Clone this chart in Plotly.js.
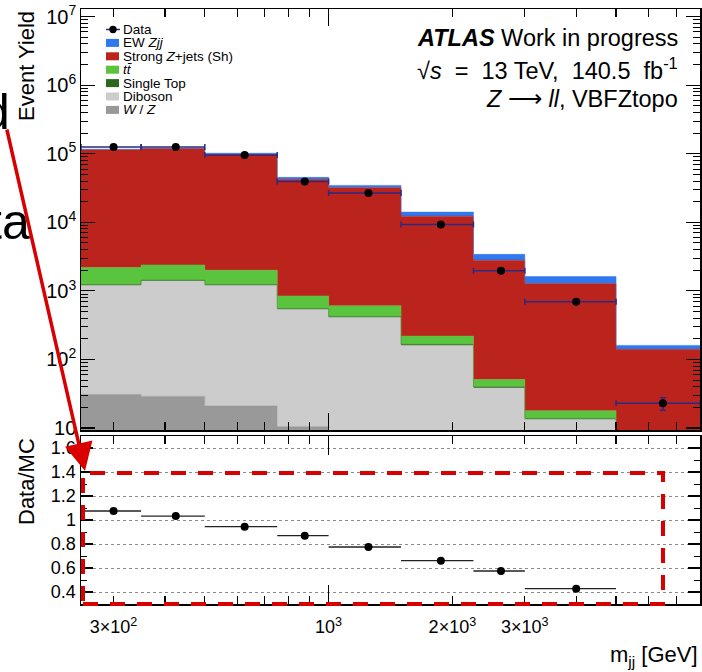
<!DOCTYPE html>
<html><head><meta charset="utf-8">
<script src="https://cdn.plot.ly/plotly-3.0.1.min.js"></script>
<style>html,body{margin:0;padding:0;background:#fff;}#chart{width:702px;height:672px;}</style>
</head><body><div id="chart"></div>
<script>
// ---- data ----
const binEdges   = [250, 350, 500, 750, 1000, 1500, 2250, 3000, 5000, 8000];
const dataYield  = [125600, 125600, 96200, 39400, 26800, 9290, 1960, 692, 22.9];
const dataErr    = [354, 354, 310, 198, 164, 96, 44, 26, 4.8];
const wzYield       = [31, 29, 21, 10.5, 7, 4, 1.5, 0.8, 0.2];
const dibosonYield  = [1169, 1361, 1179, 525, 403, 156, 37, 12.5, 4];
const singleTopYield= [40, 42, 40, 18, 14, 6, 1.5, 0.5, 0.2];
const ttbarYield    = [950, 960, 765, 292, 182, 53, 11, 4, 2];
const strongZYield  = [112600, 116700, 96400, 41650, 31500, 12080, 2760, 1262, 134];
const ewZjjYield    = [2000, 2500, 3500, 2800, 2500, 1800, 600, 337, 20];
const ratioValues   = [1.075, 1.033, 0.944, 0.869, 0.775, 0.661, 0.575, 0.428, 0.143];
const xTickVals = [300, 400, 500, 600, 700, 800, 900, 1000, 2000, 3000, 4000, 5000, 6000, 7000];
const xTickText = ['3×10<sup>2</sup>', '', '', '', '', '', '', '10<sup>3</sup>', '2×10<sup>3</sup>', '3×10<sup>3</sup>', '', '', '', ''];
const ratioTickVals = [0.4, 0.6, 0.8, 1.0, 1.2, 1.4, 1.6];
const legendLabels = ['Data', 'EW <i>Zjj</i>', 'Strong <i>Z</i>+jets (Sh)', '<i>tt̄</i>', 'Single Top', 'Diboson', '<i>W</i> / <i>Z</i>'];

// ---- layout geometry ----
const FONT = 'Liberation Sans, Arial, Helvetica, sans-serif';
const L = 81, R = 700, T = 9, B = 604;
const px = v => (v - L) / (R - L);
const py = v => (B - v) / (B - T);

const centers = binEdges.slice(0, -1).map((e, i) => (e + binEdges[i + 1]) / 2);
const errLo = centers.map((c, i) => c - binEdges[i]);
const errHi = centers.map((c, i) => binEdges[i + 1] - c);
const xRange = [Math.log10(binEdges[0]), Math.log10(binEdges[binEdges.length - 1])];

const layers = [
  {vals: wzYield, color: '#999999'},
  {vals: dibosonYield, color: '#cccccc'},
  {vals: singleTopYield, color: '#2a681e'},
  {vals: ttbarYield, color: '#5bc43f'},
  {vals: strongZYield, color: '#bb241c'},
  {vals: ewZjjYield, color: '#2e78f0'}
];
const legendColors = ['#2e78f0', '#bb241c', '#5bc43f', '#2a681e', '#cccccc', '#999999'];

const traces = [];
traces.push({x: binEdges, y: binEdges.map(() => 0.01), mode: 'lines', line: {width: 0, shape: 'hv'},
  hoverinfo: 'skip', showlegend: false, xaxis: 'x', yaxis: 'y'});
let running = wzYield.map(() => 0);
layers.forEach(l => {
  running = running.map((r, i) => r + l.vals[i]);
  const y = running.concat([running[running.length - 1]]);
  traces.push({x: binEdges, y: y, mode: 'lines', line: {width: 0.5, color: l.color, shape: 'hv'},
    fill: 'tonexty', fillcolor: l.color, hoverinfo: 'skip', showlegend: false, xaxis: 'x', yaxis: 'y'});
});
traces.push({x: centers, y: dataYield, mode: 'markers', marker: {color: '#000', size: 8},
  error_x: {type: 'data', symmetric: false, array: errHi, arrayminus: errLo, color: '#2a2a82', thickness: 1.5, width: 3},
  error_y: {type: 'data', array: dataErr, color: '#2a2a82', thickness: 1.5, width: 3},
  showlegend: false, xaxis: 'x', yaxis: 'y'});
traces.push({x: centers, y: ratioValues, mode: 'markers', marker: {color: '#000', size: 8},
  error_x: {type: 'data', symmetric: false, array: errHi, arrayminus: errLo, color: '#222', thickness: 1.3, width: 0},
  showlegend: false, xaxis: 'x2', yaxis: 'y2'});
traces.push({x: [], y: [], xaxis: 'x3', yaxis: 'y', showlegend: false});
traces.push({x: [], y: [], xaxis: 'x4', yaxis: 'y2', showlegend: false});

const axCommon = {showline: true, linecolor: '#000', linewidth: 1.5, mirror: 'ticks', ticks: 'inside',
  tickcolor: '#000', tickwidth: 1.2, showgrid: false, zeroline: false};

const mainDomain = [py(430), 1];
const ratioDomain = [0, py(436)];

const annotations = [];
const shapes = [];
// top-right text
[['<b><i>ATLAS</i></b> Work in progress', 38],
 ['√<i>s</i>  =  13 TeV,  140.5  fb<sup>-1</sup>', 69],
 ['<i>Z</i> ⟶ <i>ll</i>, VBFZtopo', 99]].forEach(([t, y]) => annotations.push({
  text: t, xref: 'paper', yref: 'paper', x: px(680), y: py(y), xanchor: 'right', yanchor: 'middle',
  showarrow: false, font: {family: FONT, size: 23.5, color: '#000'}}));
// legend
const rowY = [29.5, 42.9, 56.3, 69.7, 83.1, 96.5, 109.9];
legendLabels.forEach((t, i) => annotations.push({text: t, xref: 'paper', yref: 'paper', x: px(121), y: py(rowY[i]),
  xanchor: 'left', yanchor: 'middle', showarrow: false, font: {family: FONT, size: 13.5, color: '#000'}}));
shapes.push({type: 'line', xref: 'paper', yref: 'paper', x0: px(106), x1: px(120), y0: py(rowY[0]), y1: py(rowY[0]),
  line: {color: '#2a2a82', width: 1.5}});
shapes.push({type: 'circle', xref: 'paper', yref: 'paper', x0: px(109.3), x1: px(116.7), y0: py(rowY[0] + 3.7), y1: py(rowY[0] - 3.7),
  fillcolor: '#000', line: {color: '#000', width: 0}});
legendColors.forEach((c, i) => shapes.push({type: 'rect', xref: 'paper', yref: 'paper', x0: px(106), x1: px(119),
  y0: py(rowY[i + 1] + 4), y1: py(rowY[i + 1] - 4), fillcolor: c, line: {width: 0}}));
// axis titles
annotations.push({text: 'Event Yield', xref: 'paper', yref: 'paper', x: px(26), y: py(66), textangle: -90,
  xanchor: 'center', yanchor: 'middle', showarrow: false, font: {family: FONT, size: 22, color: '#000'}});
annotations.push({text: 'Data/MC', xref: 'paper', yref: 'paper', x: px(26), y: py(482), textangle: -90,
  xanchor: 'center', yanchor: 'middle', showarrow: false, font: {family: FONT, size: 22, color: '#000'}});
annotations.push({text: 'm<sub>jj</sub> [GeV]', xref: 'paper', yref: 'paper', x: px(700), y: py(656),
  xanchor: 'right', yanchor: 'middle', showarrow: false, font: {family: FONT, size: 22, color: '#000'}});
// cut-off text fragments on the left edge
annotations.push({text: 'd', xref: 'paper', yref: 'paper', x: px(12), y: py(112), xanchor: 'right', yanchor: 'middle',
  showarrow: false, font: {family: FONT, size: 50, color: '#000'}});
annotations.push({text: 'ta', xref: 'paper', yref: 'paper', x: px(32), y: py(222), xanchor: 'right', yanchor: 'middle',
  showarrow: false, font: {family: FONT, size: 50, color: '#000'}});
// red arrow
annotations.push({text: '', xref: 'paper', yref: 'paper', x: px(85), y: py(471), axref: 'pixel', ayref: 'pixel',
  ax: 6.5 - 85, ay: 128 - 471, showarrow: true, arrowhead: 2, arrowsize: 1.6, arrowwidth: 3.5, arrowcolor: '#d80000', standoff: 0});
// red dashed rectangle
shapes.push({type: 'rect', xref: 'paper', yref: 'paper', x0: px(83), x1: px(663), y0: py(604), y1: py(473),
  line: {color: '#d80000', width: 4, dash: '15px,12px'}, fillcolor: 'rgba(0,0,0,0)'});

const layout = {
  width: 702, height: 672, margin: {l: L, r: 702 - R, t: T, b: 672 - B, pad: 0},
  paper_bgcolor: '#fff', plot_bgcolor: '#fff', showlegend: false,
  font: {family: FONT, color: '#000'},
  xaxis: Object.assign({}, axCommon, {type: 'log', range: xRange, anchor: 'y', tickmode: 'array',
    tickvals: xTickVals, ticklen: 8, showticklabels: false}),
  xaxis3: {overlaying: 'x', anchor: 'y', side: 'bottom', type: 'log', range: xRange, tickmode: 'array', tickvals: [1000],
    ticks: 'inside', ticklen: 17, tickwidth: 1.2, tickcolor: '#000', mirror: 'ticks', showline: false,
    showticklabels: false, showgrid: false, zeroline: false},
  yaxis: Object.assign({}, axCommon, {type: 'log', range: [0.971, 7.112], domain: mainDomain, anchor: 'x',
    dtick: 1, exponentformat: 'power', ticklen: 14, tickfont: {size: 16, family: FONT},
    minor: {ticks: 'inside', ticklen: 7, dtick: 'D1', tickwidth: 1, tickcolor: '#000'}}),
  xaxis2: Object.assign({}, axCommon, {type: 'log', range: xRange, anchor: 'y2', tickmode: 'array',
    tickvals: xTickVals, ticktext: xTickText, ticklen: 8, ticklabelstandoff: 6, tickfont: {size: 18, family: FONT}}),
  xaxis4: {overlaying: 'x2', anchor: 'y2', side: 'bottom', type: 'log', range: xRange, tickmode: 'array', tickvals: [1000],
    ticks: 'inside', ticklen: 19, tickwidth: 1.2, tickcolor: '#000', mirror: 'ticks', showline: false,
    showticklabels: false, showgrid: false, zeroline: false},
  yaxis2: Object.assign({}, axCommon, {range: [0.3, 1.7], domain: ratioDomain, anchor: 'x2', tickmode: 'array',
    tickvals: ratioTickVals, ticklen: 12, tickfont: {size: 18, family: FONT},
    showgrid: true, gridcolor: '#8a8a8a', gridwidth: 1, griddash: 'dot',
    minor: {ticks: 'inside', ticklen: 6, dtick: 0.1, tick0: 0.3, tickwidth: 1, tickcolor: '#000'}}),
  annotations: annotations, shapes: shapes
};
Plotly.newPlot('chart', traces, layout, {displayModeBar: false, staticPlot: true});
</script></body></html>
